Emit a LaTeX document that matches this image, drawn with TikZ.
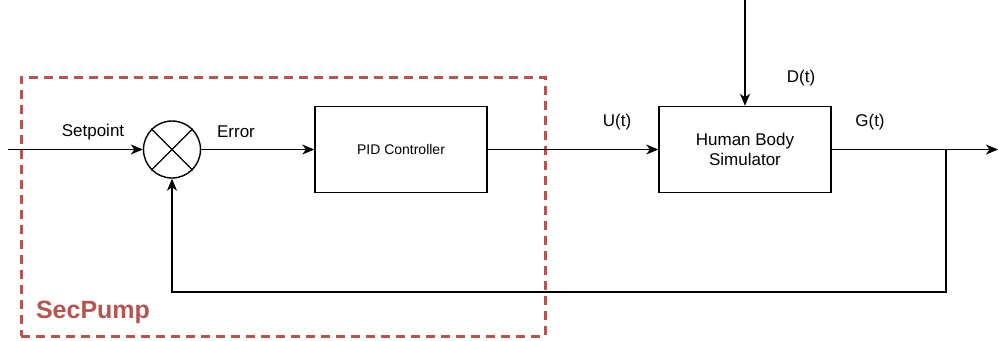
\documentclass[tikz,border=0pt]{standalone}
\usepackage{fontspec}
\setmainfont{Liberation Sans}
\usetikzlibrary{arrows.meta}
\definecolor{grpred}{HTML}{B85450}
\begin{document}
\begin{tikzpicture}[x=1pt,y=-1pt,
  lbl/.style={font=\fontsize{17}{20}\selectfont, inner sep=0pt},
  blk/.style={draw, line width=1.4pt, minimum width=172pt, minimum height=86pt, align=center, inner sep=0pt},
  sumc/.style={draw, circle, line width=1.4pt, minimum size=57pt, inner sep=0pt},
  conn/.style={line width=1.4pt, -{Stealth[length=12pt,width=10pt,inset=3.5pt]}},
  plain/.style={line width=1.4pt},
  grp/.style={draw=grpred, line width=3pt, dash pattern=on 9pt off 6pt, minimum width=524pt, minimum height=259pt, inner sep=0pt}
]
\useasboundingbox (0,0) rectangle (998,340);
\node[grp] (group) at (283,206.5) {};
\node[sumc] (sum) at (172,149.5) {};
\draw[plain] (sum.45) -- (sum.225) (sum.135) -- (sum.315);
\node[blk, font=\fontsize{14}{17}\selectfont] (pid) at (401,149.5) {PID Controller};
\node[blk, font=\fontsize{17}{20}\selectfont] (hbs) at (745,149.5) {Human Body\\[0pt]Simulator};
\coordinate (in) at (8,149.5);
\coordinate (out) at (998,149.5);
\coordinate (dtop) at (745,0);
\coordinate (br) at (946,149.5);
\coordinate (brd) at (946,292);
\coordinate (bld) at (172,292);
\draw[conn] (in) -- (sum);
\draw[conn] (sum) -- (pid);
\draw[conn] (pid) -- (hbs);
\draw[conn] (dtop) -- (hbs);
\draw[conn] (hbs) -- (out);
\draw[conn] (br) -- (brd) -- (bld) -- (sum);
\node[lbl] (lsp) at (93,132) {Setpoint};
\node[lbl] (ler) at (236,132) {Error};
\node[lbl] (lu) at (617,122) {U(t)};
\node[lbl] (ld) at (801,78) {D(t)};
\node[lbl] (lg) at (870,122) {G(t)};
\node[font=\fontsize{25}{29}\bfseries, text=grpred, inner sep=0pt] (lsec) at (93,312) {SecPump};
\end{tikzpicture}
\end{document}
